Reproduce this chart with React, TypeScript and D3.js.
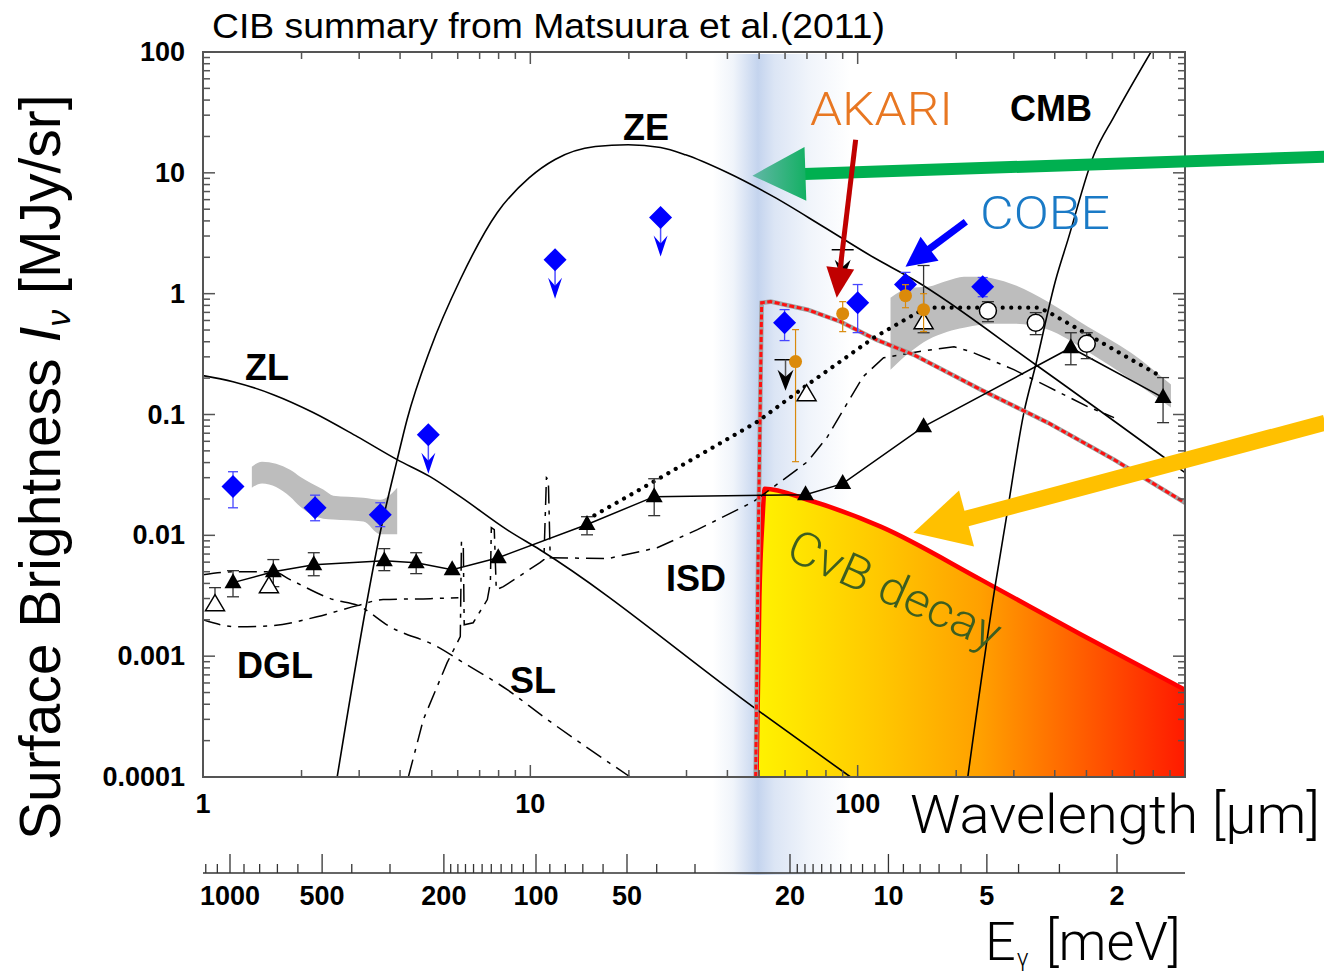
import React, { useEffect, useRef } from 'react';
import * as d3 from 'd3';

// CIB summary (Matsuura et al. 2011) with CνB decay band

// model curves: wavelength [um] / surface brightness [MJy/sr]
const zeLambda = [2.57, 3.53, 3.92, 4.2, 4.94, 6.11, 7.92, 9.93, 11.9, 15.8, 19.9, 25, 29.8, 39.5, 55.3, 78.6, 112, 148, 350, 1000];
const zeFlux = [1e-4, 0.0127, 0.0423, 0.0906, 0.344, 1.31, 4.68, 9.12, 12.9, 16.5, 17.1, 16.2, 14.1, 10.2, 6.35, 3.58, 1.99, 1.31, 0.258, 0.033];

const zlLambda = [1, 1.235, 1.64, 2.17, 2.96, 3.92, 4.94, 6.11, 8.5, 10.7, 49.3, 95.1];
const zlFlux = [0.21, 0.187, 0.146, 0.104, 0.0656, 0.0423, 0.0306, 0.0209, 0.0111, 0.0076, 0.00036, 1e-4];

const cmbLambda = [217, 264, 284, 322, 350, 403, 439, 527, 607, 787];
const cmbFlux = [1e-4, 0.00406, 0.0135, 0.1035, 0.258, 1.31, 2.8, 14.1, 29.2, 100];

const dglLambda = [1, 1.27, 1.64, 2.23, 2.96, 3.55, 4.94, 6.03];
const dglFlux = [0.002, 0.00175, 0.00179, 0.00212, 0.00262, 0.00294, 0.00299, 0.00305];

const slLambda = [1, 1.27, 1.64, 1.845, 2.5, 2.98, 3.73, 5.19, 6.24, 8.5, 10.96, 20.2];
const slFlux = [0.00472, 0.005, 0.005, 0.0043, 0.00294, 0.00262, 0.00175, 0.0012, 0.000884, 0.000528, 0.000316, 1e-4];

const isdLambda = [4.24, 4.71, 5.57, 5.98, 6.11, 6.16, 6.24, 6.28, 6.69, 7.39, 7.55, 7.6, 7.76, 7.87, 8.27, 10.7, 11.0, 11.2, 11.35, 11.5, 17.2, 24.4, 32.4, 48.1, 70.3, 80.9, 93.1, 104, 120, 153, 197, 222, 300, 381, 505, 607];
const isdFlux = [1e-4, 0.000298, 0.000884, 0.00129, 0.00145, 0.00887, 0.00837, 0.00182, 0.00189, 0.00294, 0.00406, 0.01157, 0.01114, 0.00355, 0.00376, 0.00594, 0.0063, 0.03, 0.0289, 0.00653, 0.00641, 0.0079, 0.01114, 0.019, 0.0407, 0.0656, 0.125, 0.206, 0.295, 0.331, 0.364, 0.331, 0.235, 0.17, 0.116, 0.0942];

const dotLambda = [14.9, 24.4, 49.4, 70.3, 112, 152, 167, 355, 381, 505, 670, 857];
const dotFlux = [0.0135, 0.0289, 0.0872, 0.1766, 0.432, 0.697, 0.766, 0.766, 0.71, 0.458, 0.295, 0.202];

const limitLambda = [48.8, 49.8, 50.9, 54.2, 70.3, 88.7, 114, 148, 238, 381, 607, 1000];
const limitFlux = [1e-4, 0.0135, 0.842, 0.859, 0.737, 0.586, 0.416, 0.313, 0.1604, 0.0856, 0.0423, 0.0186];

const cnbLambda = [49.1, 50.1, 51.2, 52, 70.3, 117.6, 238, 481, 1000];
const cnbFlux = [1e-4, 0.0031, 0.0135, 0.0243, 0.0197, 0.0118, 0.0043, 0.00151, 0.000528];

// shaded ranges
const band1Lambda = [1.41, 1.515, 1.845, 1.98, 2.33, 2.5, 3.09, 3.48, 3.92];
const band1Hi = [0.037, 0.0407, 0.0349, 0.0306, 0.0239, 0.0213, 0.0205, 0.0197, 0.0248];
const band1Lo = [0.0248, 0.0268, 0.0209, 0.0173, 0.01374, 0.0135, 0.013, 0.0102, 0.0102];

const band2Lambda = [126, 145, 164, 188, 211, 238, 261, 300, 381, 505, 684, 906];
const band2Hi = [0.927, 1.12, 1.143, 1.281, 1.383, 1.383, 1.331, 1.187, 0.859, 0.533, 0.325, 0.177];
const band2Lo = [0.235, 0.331, 0.416, 0.485, 0.523, 0.554, 0.565, 0.565, 0.504, 0.331, 0.194, 0.114];

// measurements
const cobeLambda = [1.235, 2.2, 3.48, 59.8, 100, 140, 241];
const cobeFlux = [0.0253, 0.0169, 0.0148, 0.575, 0.842, 1.19, 1.14];
const cobeHi = [0.0336, 0.0215, 0.0186, 0.738, 1.19, 1.5, 1.36];
const cobeLo = [0.0169, 0.0132, 0.0118, 0.409, 0.476, 0.95, 0.944];
const cobeLimLambda = [4.88, 11.9, 25];
const cobeLimFlux = [0.068, 1.91, 4.26];

const triLambda = [1.235, 1.64, 2.18, 3.58, 4.48, 5.77, 7.98, 14.9, 23.9, 69.3, 90, 159, 448, 857];
const triFlux = [0.00406, 0.005, 0.00571, 0.00617, 0.00594, 0.0052, 0.00653, 0.0123, 0.0209, 0.0217, 0.0268, 0.0793, 0.357, 0.138];
const triHi = [0.0051, 0.0063, 0.00718, 0.00776, 0.00718, 0.0052, 0.00653, 0.01426, 0.0294, 0.0217, 0.0268, 0.0793, 0.475, 0.202];
const triLo = [0.0031, 0.00376, 0.00463, 0.0051, 0.00482, 0.0052, 0.00653, 0.0101, 0.01455, 0.0217, 0.0268, 0.0793, 0.258, 0.0856];

const openTriLambda = [1.088, 1.59, 69.8, 159];
const openTriFlux = [0.00267, 0.00376, 0.146, 0.575];
const openTriHi = [0.00369, 0.00376, 0.146, 1.71];
const openTriLo = [0.00267, 0.00376, 0.146, 0.475];

const circLambda = [250, 350, 501];
const circFlux = [0.723, 0.575, 0.385];
const circHi = [0.859, 0.697, 0.475];
const circLo = [0.586, 0.458, 0.29];

const akariLambda = [64.6, 90, 140, 159];
const akariFlux = [0.274, 0.683, 0.962, 0.737];
const akariHi = [0.504, 0.859, 1.187, 1.0];
const akariLo = [0.0407, 0.485, 0.765, 0.485];

const upperLambda = [60.2, 90];
const upperFlux = [0.284, 2.31];

// annotation arrows [tail, tip] in data units
const greenArrow = [[2680, 13.6], [47.7, 9.48]];
const orangeArrow = [[2680, 0.0856], [148, 0.0105]];
const akariArrow = [[98.6, 18.8], [86.3, 0.927]];
const cobeArrow = [[214, 3.94], [140, 1.67]];

// axes
const yTickValues = [1e-4, 1e-3, 1e-2, 0.1, 1, 10, 100];
const yTickLabels = ['0.0001', '0.001', '0.01', '0.1', '1', '10', '100'];
const xTickValues = [1, 10, 100];
const xTickLabels = ['1', '10', '100'];
const eMajor = [1000, 500, 200, 100, 50, 20, 10, 5, 2];
const eMinor = [1200, 1100, 900, 800, 700, 600, 400, 300, 190, 180, 170, 160, 150, 140, 130, 120, 110, 90, 80, 70, 60, 40, 30, 19, 18, 17, 16, 15, 14, 13, 12, 11, 9, 8, 7, 6, 4, 3];

const SANS = 'Liberation Sans, Arial, Helvetica, sans-serif';
const LIGHT = 'Roboto, Liberation Sans, Arial, sans-serif';

const App = () => {
  const svgRef = useRef<SVGSVGElement>(null);

  useEffect(() => {
    const svg = d3.select(svgRef.current);
    svg.selectAll('*').remove();

    const L = 203, R = 1185, T = 52, B = 777;
    const x = d3.scaleLog().domain([1, 1000]).range([L, R]);
    const y = d3.scaleLog().domain([1e-4, 100]).range([B, T]);
    // photon energy axis (as drawn in the figure, not perfectly aligned)
    const eScale = d3.scaleLog().domain([1000, 100, 50, 30, 20, 2]).range([230, 536, 627, 695, 790, 1117]);
    const eAxisY = 873;

    const pairs = (a: number[], b: number[]) => a.map((v, i) => [v, b[i]] as [number, number]);
    const line = d3.line<[number, number]>().x(d => x(d[0])).y(d => y(d[1]));
    const smooth = d3.line<[number, number]>().x(d => x(d[0])).y(d => y(d[1])).curve(d3.curveMonotoneX);

    const defs = svg.append('defs');
    defs.append('clipPath').attr('id', 'plot').append('rect')
      .attr('x', L).attr('y', T).attr('width', R - L).attr('height', B - T);

    const bandGrad = defs.append('linearGradient').attr('id', 'blueband')
      .attr('gradientUnits', 'userSpaceOnUse').attr('x1', x(36)).attr('x2', x(95)).attr('y1', 0).attr('y2', 0);
    [[0, 0], [0.15, 0.25], [0.33, 1], [0.45, 0.6], [0.7, 0.25], [1, 0]].forEach(([o, a]) =>
      bandGrad.append('stop').attr('offset', o).attr('stop-color', '#c4d4ee').attr('stop-opacity', a));

    const cnbGrad = defs.append('linearGradient').attr('id', 'cnbfill')
      .attr('gradientUnits', 'userSpaceOnUse').attr('x1', x(50)).attr('x2', x(1000)).attr('y1', 0).attr('y2', 0);
    [[0, '#fff200'], [0.28, '#ffc800'], [0.52, '#ffa000'], [0.75, '#ff6000'], [1, '#ff1a00']].forEach(([o, c]) =>
      cnbGrad.append('stop').attr('offset', o).attr('stop-color', c));

    const headGrad = defs.append('linearGradient').attr('id', 'greenhead')
      .attr('gradientUnits', 'userSpaceOnUse').attr('x1', x(greenArrow[1][0])).attr('x2', x(greenArrow[1][0]) + 55).attr('y1', 0).attr('y2', 0);
    headGrad.append('stop').attr('offset', 0).attr('stop-color', '#62b7a6');
    headGrad.append('stop').attr('offset', 1).attr('stop-color', '#12b062');

    svg.append('rect').attr('width', 1324).attr('height', 977).attr('fill', '#fff');

    // blue band around 50 um
    svg.append('rect').attr('x', x(36)).attr('y', T + 2).attr('width', x(95) - x(36)).attr('height', eAxisY - T)
      .attr('fill', 'url(#blueband)');

    const plot = svg.append('g').attr('clip-path', 'url(#plot)');

    // gray ranges
    const area = d3.area<[number, number, number]>().x(d => x(d[0])).y0(d => y(d[2])).y1(d => y(d[1])).curve(d3.curveMonotoneX);
    plot.append('path').attr('d', area(band1Lambda.map((l, i) => [l, band1Hi[i], band1Lo[i]])))
      .attr('fill', '#bdbdbd');
    plot.append('path').attr('d', area(band2Lambda.map((l, i) => [l, band2Hi[i], band2Lo[i]])))
      .attr('fill', '#bdbdbd');

    // CvB decay region
    const cnbArea = d3.area<[number, number]>().x(d => x(d[0])).y0(y(1e-4)).y1(d => y(d[1])).curve(d3.curveMonotoneX);
    plot.append('path').attr('d', cnbArea(pairs(cnbLambda, cnbFlux))).attr('fill', 'url(#cnbfill)');
    plot.append('path').attr('d', smooth(pairs(cnbLambda, cnbFlux)))
      .attr('fill', 'none').attr('stroke', '#ff0000').attr('stroke-width', 4.5).attr('stroke-linejoin', 'round');

    // model curves
    const solid = (d: string | null, w = 1.6) => plot.append('path').attr('d', d).attr('fill', 'none')
      .attr('stroke', '#000').attr('stroke-width', w);
    solid(smooth(pairs(zeLambda, zeFlux)));
    solid(smooth(pairs(zlLambda, zlFlux)));
    solid(smooth(pairs(cmbLambda, cmbFlux)));

    const dashDot = (d: string | null) => plot.append('path').attr('d', d).attr('fill', 'none')
      .attr('stroke', '#000').attr('stroke-width', 1.5).attr('stroke-dasharray', '18,7,4,7');
    dashDot(smooth(pairs(dglLambda, dglFlux)));
    dashDot(smooth(pairs(slLambda, slFlux)));
    dashDot(line(pairs(isdLambda, isdFlux)));

    // red-gray dotted upper curve
    const lim = line(pairs(limitLambda, limitFlux));
    plot.append('path').attr('d', lim).attr('fill', 'none').attr('stroke', '#a0a0a0').attr('stroke-width', 4.5);
    plot.append('path').attr('d', lim).attr('fill', 'none').attr('stroke', '#ff1010').attr('stroke-width', 3)
      .attr('stroke-dasharray', '5,2.5');

    // black dotted line
    plot.append('path').attr('d', line(pairs(dotLambda, dotFlux))).attr('fill', 'none')
      .attr('stroke', '#000').attr('stroke-width', 4.2).attr('stroke-linecap', 'round').attr('stroke-dasharray', '0.01,8.5');

    // solid line through filled triangles
    solid(line(pairs(triLambda, triFlux)), 1.5);

    const pts = svg.append('g');
    const errBars = (ls: number[], hi: number[], lo: number[], color: string, cap: number, w = 1.3) => {
      ls.forEach((l, i) => {
        if (hi[i] === lo[i]) return;
        const cx = x(l);
        const g = pts.append('g').attr('stroke', color).attr('stroke-width', w);
        g.append('line').attr('x1', cx).attr('x2', cx).attr('y1', y(hi[i])).attr('y2', y(lo[i]));
        g.append('line').attr('x1', cx - cap / 2).attr('x2', cx + cap / 2).attr('y1', y(hi[i])).attr('y2', y(hi[i]));
        g.append('line').attr('x1', cx - cap / 2).attr('x2', cx + cap / 2).attr('y1', y(lo[i])).attr('y2', y(lo[i]));
      });
    };

    // filled triangles
    errBars(triLambda, triHi, triLo, '#333', 12);
    triLambda.forEach((l, i) => {
      pts.append('path').attr('transform', `translate(${x(l)},${y(triFlux[i])})`)
        .attr('d', 'M0,-9.5L8.5,5.5L-8.5,5.5Z').attr('fill', '#000');
    });

    // open triangles
    errBars(openTriLambda, openTriHi, openTriLo, '#333', 12);
    openTriLambda.forEach((l, i) => {
      pts.append('path').attr('transform', `translate(${x(l)},${y(openTriFlux[i])})`)
        .attr('d', 'M0,-10L9.5,6L-9.5,6Z').attr('fill', '#fff').attr('stroke', '#000').attr('stroke-width', 1.5);
    });

    // open circles
    errBars(circLambda, circHi, circLo, '#333', 12);
    circLambda.forEach((l, i) => {
      pts.append('circle').attr('cx', x(l)).attr('cy', y(circFlux[i])).attr('r', 8.5)
        .attr('fill', '#fff').attr('stroke', '#000').attr('stroke-width', 1.5);
    });

    // black upper limits
    upperLambda.forEach((l, i) => {
      const cx = x(l), cy = y(upperFlux[i]);
      const g = pts.append('g');
      g.append('line').attr('x1', cx - 11).attr('x2', cx + 11).attr('y1', cy).attr('y2', cy).attr('stroke', '#000').attr('stroke-width', 1.5);
      g.append('line').attr('x1', cx).attr('x2', cx).attr('y1', cy).attr('y2', cy + 20).attr('stroke', '#555').attr('stroke-width', 1.5);
      g.append('path').attr('d', `M${cx - 8},${cy + 10}L${cx},${cy + 17}L${cx + 8},${cy + 10}L${cx},${cy + 31}Z`).attr('fill', '#000');
    });

    // COBE diamonds
    errBars(cobeLambda, cobeHi, cobeLo, '#4646ff', 10, 1.3);
    const diamond = 'M0,-11.5L11.5,0L0,11.5L-11.5,0Z';
    cobeLambda.forEach((l, i) => {
      pts.append('path').attr('transform', `translate(${x(l)},${y(cobeFlux[i])})`).attr('d', diamond).attr('fill', '#0000ff');
    });
    cobeLimLambda.forEach((l, i) => {
      const cx = x(l), cy = y(cobeLimFlux[i]);
      pts.append('line').attr('x1', cx).attr('x2', cx).attr('y1', cy).attr('y2', cy + 28).attr('stroke', '#5050ff').attr('stroke-width', 1.5);
      pts.append('path').attr('d', `M${cx - 7},${cy + 18}L${cx},${cy + 26}L${cx + 7},${cy + 18}L${cx},${cy + 39}Z`).attr('fill', '#0000ff');
      pts.append('path').attr('transform', `translate(${cx},${cy})`).attr('d', diamond).attr('fill', '#0000ff');
    });

    // AKARI
    errBars(akariLambda, akariHi, akariLo, '#d98a0c', 7, 1.2);
    akariLambda.forEach((l, i) => {
      pts.append('circle').attr('cx', x(l)).attr('cy', y(akariFlux[i])).attr('r', 6.5).attr('fill', '#db8a0a');
    });

    // axes frame
    const axes = svg.append('g').attr('stroke', '#555').attr('stroke-width', 1.5);
    axes.append('rect').attr('x', L).attr('y', T).attr('width', R - L).attr('height', B - T).attr('fill', 'none').attr('stroke-width', 2);
    const xTicks: [number, boolean][] = [];
    [1, 10, 100].forEach(d => d3.range(1, 10).forEach(k => xTicks.push([k * d, k === 1])));
    xTicks.push([1000, true]);
    xTicks.forEach(([v, major]) => {
      const px = x(v), len = major ? 12 : 7;
      axes.append('line').attr('x1', px).attr('x2', px).attr('y1', B).attr('y2', B - len);
      axes.append('line').attr('x1', px).attr('x2', px).attr('y1', T).attr('y2', T + len);
    });
    const yTicks: [number, boolean][] = [];
    [1e-4, 1e-3, 1e-2, 0.1, 1, 10].forEach(d => d3.range(1, 10).forEach(k => yTicks.push([k * d, k === 1])));
    yTicks.push([100, true]);
    yTicks.forEach(([v, major]) => {
      const py = y(v), len = major ? 12 : 7;
      axes.append('line').attr('x1', L).attr('x2', L + len).attr('y1', py).attr('y2', py);
      axes.append('line').attr('x1', R).attr('x2', R - len).attr('y1', py).attr('y2', py);
    });

    const text = (tx: number, ty: number, s: string, size: number, opts: any = {}) => {
      const t = svg.append('text').attr('x', tx).attr('y', ty).text(s)
        .attr('font-family', opts.family || SANS).attr('font-size', size)
        .attr('font-weight', opts.weight || 'normal').attr('fill', opts.fill || '#000')
        .attr('text-anchor', opts.anchor || 'start');
      if (opts.width) t.attr('textLength', opts.width).attr('lengthAdjust', 'spacingAndGlyphs');
      return t;
    };

    yTickValues.forEach((v, i) => text(185, y(v) + 9, yTickLabels[i], 27, { weight: 'bold', anchor: 'end' }));
    xTickValues.forEach((v, i) => text(x(v), 813, xTickLabels[i], 27, { weight: 'bold', anchor: 'middle' }));

    // energy axis
    const eAx = svg.append('g').attr('stroke', '#333').attr('stroke-width', 1.3);
    eAx.append('line').attr('x1', L).attr('x2', R).attr('y1', eAxisY).attr('y2', eAxisY);
    eMajor.forEach(v => eAx.append('line').attr('x1', eScale(v)).attr('x2', eScale(v)).attr('y1', eAxisY).attr('y2', eAxisY - 19));
    eMinor.forEach(v => eAx.append('line').attr('x1', eScale(v)).attr('x2', eScale(v)).attr('y1', eAxisY).attr('y2', eAxisY - 9));
    eMajor.forEach(v => text(eScale(v), 905, String(v), 27, { weight: 'bold', anchor: 'middle' }));

    // arrows
    const arrow = (a: number[][], sw: number, hl: number, hw: number, shaftFill: string, headFill: string) => {
      const [x1, y1] = [x(a[0][0]), y(a[0][1])];
      const [x2, y2] = [x(a[1][0]), y(a[1][1])];
      const len = Math.hypot(x2 - x1, y2 - y1);
      const ux = (x2 - x1) / len, uy = (y2 - y1) / len, nx = -uy, ny = ux;
      const bx = x2 - ux * hl, by = y2 - uy * hl;
      const shaft = [[x1 + nx * sw / 2, y1 + ny * sw / 2], [bx + nx * sw / 2 + ux, by + ny * sw / 2 + uy],
        [bx - nx * sw / 2 + ux, by - ny * sw / 2 + uy], [x1 - nx * sw / 2, y1 - ny * sw / 2]];
      const head = [[bx + nx * hw, by + ny * hw], [x2, y2], [bx - nx * hw, by - ny * hw]];
      svg.append('polygon').attr('points', shaft.map(p => p.join(',')).join(' ')).attr('fill', shaftFill);
      svg.append('polygon').attr('points', head.map(p => p.join(',')).join(' ')).attr('fill', headFill);
    };
    arrow(greenArrow, 12, 53, 27, '#00b050', 'url(#greenhead)');
    arrow(orangeArrow, 16, 55, 29, '#ffc000', '#ffc000');
    arrow(akariArrow, 5, 30, 14, '#c00000', '#c00000');
    arrow(cobeArrow, 7, 30, 15, '#0000ff', '#0000ff');

    // labels
    text(212, 38, 'CIB summary from Matsuura et al.(2011)', 35, { width: 673 });
    text(623, 140, 'ZE', 36, { weight: 'bold' });
    text(1010, 121, 'CMB', 36, { weight: 'bold' });
    text(245, 380, 'ZL', 36, { weight: 'bold' });
    text(237, 678, 'DGL', 36, { weight: 'bold' });
    text(510, 693, 'SL', 36, { weight: 'bold' });
    text(666, 591, 'ISD', 36, { weight: 'bold' });
    text(810, 125, 'AKARI', 47, { family: LIGHT, weight: 300, fill: '#e87722', width: 143 });
    text(980, 229, 'COBE', 47, { family: LIGHT, weight: 300, fill: '#1a7ac6', width: 130 });
    text(910, 833, 'Wavelength [μm]', 54, { family: LIGHT, weight: 300, width: 410 });

    const eLab = svg.append('text').attr('x', 985).attr('y', 960).attr('font-family', LIGHT)
      .attr('font-weight', 300).attr('font-size', 54);
    eLab.append('tspan').text('E');
    eLab.append('tspan').attr('font-size', 24).attr('dy', 6).attr('dx', 1).text('γ');
    eLab.append('tspan').attr('dy', -6).attr('dx', 4).text(' [meV]');

    svg.append('text').attr('transform', 'translate(784,558) rotate(24)')
      .attr('font-family', LIGHT).attr('font-weight', 300).attr('font-size', 47).attr('fill', '#3d5e20')
      .attr('textLength', 228).attr('lengthAdjust', 'spacingAndGlyphs')
      .text('CνB decay');

    const yLab = svg.append('text').attr('transform', 'translate(60,840) rotate(-90)')
      .attr('font-family', SANS).attr('font-size', 57);
    yLab.append('tspan').text('Surface Brightness  ');
    yLab.append('tspan').attr('font-style', 'italic').text('I');
    yLab.append('tspan').attr('font-size', 34).attr('dy', 10).attr('font-style', 'italic').text('ν');
    yLab.append('tspan').attr('dy', -10).text(' [MJy/sr]');
  }, []);

  return (
    <svg ref={svgRef} width="1324" height="977" style={{ position: 'absolute', left: 0, top: 0 }} />
  );
};

export default App;
